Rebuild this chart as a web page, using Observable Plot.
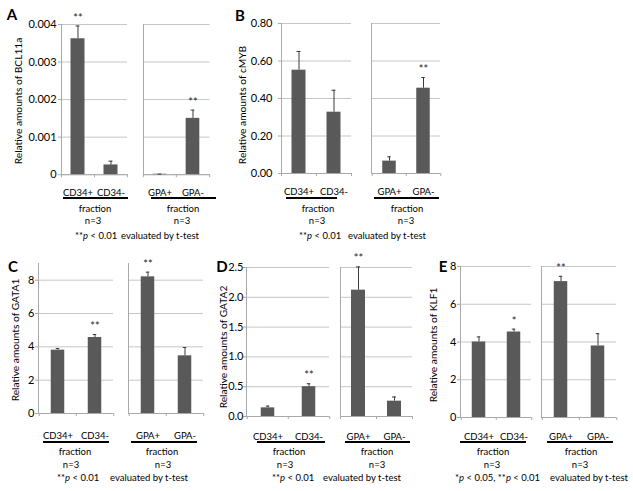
<!DOCTYPE html>
<html><head><meta charset="utf-8">
<script src="https://cdn.jsdelivr.net/npm/d3@7"></script>
<script src="https://cdn.jsdelivr.net/npm/@observablehq/plot@0.6"></script>
<style>
body{margin:0;background:#fff;}
#fig{position:relative;width:633px;height:491px;overflow:hidden;font-family:Lato,sans-serif;color:#000;background:#fff;}
#fig svg{position:absolute;overflow:visible;}
.t{position:absolute;white-space:nowrap;line-height:1;}
.c{transform:translate(-50%,-50%);}
.l{transform:translate(0,-50%);}
.yl{transform:translate(-50%,-50%) rotate(-90deg);font-size:10.2px;}
.letter{font-weight:bold;font-size:15px;transform:translate(-50%,-50%);}
.small{font-size:9.5px;}
.ul{position:absolute;height:1.5px;background:#000;}
</style></head><body><div id="fig"></div>
<script>
// ---------- data ----------
const categoriesCD34 = ["CD34+", "CD34-"];
const categoriesGPA = ["GPA+", "GPA-"];

// A: BCL11a
const bcl11aCD34 = [0.00362, 0.00026];
const bcl11aCD34Err = [0.00034, 0.0001];
const bcl11aCD34Stars = ["**", ""];
const bcl11aGPA = [0.000012, 0.0015];
const bcl11aGPAErr = [0.000003, 0.00022];
const bcl11aGPAStars = ["", "**"];
const ticksA = [0, 0.001, 0.002, 0.003, 0.004];
const tickLabelsA = ["0", "0.001", "0.002", "0.003", "0.004"];

// B: cMYB
const cmybCD34 = [0.551, 0.327];
const cmybCD34Err = [0.10, 0.117];
const cmybCD34Stars = ["", ""];
const cmybGPA = [0.066, 0.455];
const cmybGPAErr = [0.023, 0.057];
const cmybGPAStars = ["", "**"];
const ticksB = [0, 0.2, 0.4, 0.6, 0.8];
const tickLabelsB = ["0.00", "0.20", "0.40", "0.60", "0.80"];

// C: GATA1
const gata1CD34 = [3.8, 4.56];
const gata1CD34Err = [0.1, 0.18];
const gata1CD34Stars = ["", "**"];
const gata1GPA = [8.2, 3.46];
const gata1GPAErr = [0.28, 0.5];
const gata1GPAStars = ["**", ""];
const ticksC = [0, 2, 4, 6, 8];
const tickLabelsC = ["0", "2", "4", "6", "8"];

// D: GATA2
const gata2CD34 = [0.145, 0.50];
const gata2CD34Err = [0.03, 0.05];
const gata2CD34Stars = ["", "**"];
const gata2GPA = [2.12, 0.257];
const gata2GPAErr = [0.39, 0.07];
const gata2GPAStars = ["**", ""];
const ticksD = [0, 0.5, 1.0, 1.5, 2.0, 2.5];
const tickLabelsD = ["0.0", "0.5", "1.0", "1.5", "2.0", "2.5"];

// E: KLF1
const klf1CD34 = [4.0, 4.53];
const klf1CD34Err = [0.27, 0.15];
const klf1CD34Stars = ["", "*"];
const klf1GPA = [7.2, 3.79];
const klf1GPAErr = [0.28, 0.65];
const klf1GPAStars = ["**", ""];
const ticksE = [0, 2, 4, 6, 8];
const tickLabelsE = ["0", "2", "4", "6", "8"];

const fractionLabel = "fraction";
const nLabel = "n=3";
const pText1 = "**<i>p</i> &lt; 0.01";
const pText2 = "*<i>p</i> &lt; 0.05, **<i>p</i> &lt; 0.01";
const evalText = "evaluated by t-test";

// ---------- layout / style ----------
const BAR = "#595959", GRID = "#c6c6c6", AXIS = "#a9a9a9", ERR = "#3a3a3a";
const BAR_W = 14, CAP_W = 4;

const panels = [
  {letter: "A", lx: 12, ly: 14, ylabel: "Relative amounts of BCL11a", yx: 18, yy: 101,
   domain: [0, 0.004], ticks: ticksA, labels: tickLabelsA, yTop: 23.5, yBot: 173.7, tickGap: 5, catPad: 15,
   subs: [{x0: 61, x1: 127, cats: categoriesCD34, values: bcl11aCD34, errors: bcl11aCD34Err, stars: bcl11aCD34Stars},
          {x0: 143.3, x1: 210, cats: categoriesGPA, values: bcl11aGPA, errors: bcl11aGPAErr, stars: bcl11aGPAStars}],
   ulY: 198, uls: [[63, 128], [151, 216]], fracY: 208.5, fracX: [95, 183], nY: 221, nX: [93, 182],
   footY: 235.5, pX: 75, pText: pText1, evX: 121},
  {letter: "B", lx: 240, ly: 14.5, ylabel: "Relative amounts of cMYB", yx: 242, yy: 105,
   domain: [0, 0.8], ticks: ticksB, labels: tickLabelsB, yTop: 23.3, yBot: 173.3, tickGap: 9, catPad: 15,
   subs: [{x0: 281, x1: 351, cats: categoriesCD34, values: cmybCD34, errors: cmybCD34Err, stars: cmybCD34Stars},
          {x0: 371, x1: 440, cats: categoriesGPA, values: cmybGPA, errors: cmybGPAErr, stars: cmybGPAStars}],
   ulY: 198, uls: [[286, 337], [374, 439]], fracY: 208.5, fracX: [318, 407], nY: 221, nX: [317, 406],
   footY: 235.5, pX: 299, pText: pText1, evX: 348},
  {letter: "C", lx: 13, ly: 266, ylabel: "Relative amounts of GATA1", yx: 15, yy: 340,
   domain: [0, 9], ticks: ticksC, labels: tickLabelsC, yTop: 263.3, yBot: 413.3, tickGap: 4, catPad: 19,
   subs: [{x0: 38, x1: 113, cats: categoriesCD34, values: gata1CD34, errors: gata1CD34Err, stars: gata1CD34Stars},
          {x0: 128, x1: 203, cats: categoriesGPA, values: gata1GPA, errors: gata1GPAErr, stars: gata1GPAStars}],
   ulY: 442, uls: [[43, 109], [131, 197]], fracY: 452, fracX: [75, 162], nY: 465, nX: [71, 163],
   footY: 478, pX: 57, pText: pText1, evX: 110},
  {letter: "D", lx: 222, ly: 266, ylabel: "Relative amounts of GATA2", yx: 223, yy: 347,
   domain: [0, 2.5], ticks: ticksD, labels: tickLabelsD, yTop: 267, yBot: 416, tickGap: 3, catPad: 16.5,
   subs: [{x0: 246, x1: 329, cats: categoriesCD34, values: gata2CD34, errors: gata2CD34Err, stars: gata2CD34Stars},
          {x0: 340, x1: 412, cats: categoriesGPA, values: gata2GPA, errors: gata2GPAErr, stars: gata2GPAStars}],
   ulY: 442, uls: [[257, 325], [345, 410]], fracY: 452, fracX: [289, 377], nY: 465, nX: [285, 377],
   footY: 478, pX: 272, pText: pText1, evX: 323},
  {letter: "E", lx: 443, ly: 266, ylabel: "Relative amounts of KLF1", yx: 433, yy: 345,
   domain: [0, 8], ticks: ticksE, labels: tickLabelsE, yTop: 265.7, yBot: 416.7, tickGap: 4, catPad: 16,
   subs: [{x0: 460, x1: 531, cats: categoriesCD34, values: klf1CD34, errors: klf1CD34Err, stars: klf1CD34Stars},
          {x0: 541, x1: 616, cats: categoriesGPA, values: klf1GPA, errors: klf1GPAErr, stars: klf1GPAStars}],
   ulY: 442, uls: [[460, 526], [547, 613]], fracY: 452, fracX: [493, 581], nY: 465, nX: [492, 580],
   footY: 478, pX: 455, pText: pText2, evX: 550}
];

const fig = document.getElementById("fig");

function addText(html, x, y, cls) {
  const d = document.createElement("div");
  d.className = "t " + cls;
  d.style.left = x + "px";
  d.style.top = y + "px";
  d.innerHTML = html;
  fig.appendChild(d);
}
function addLine(x0, x1, y) {
  const d = document.createElement("div");
  d.className = "ul";
  d.style.left = x0 + "px";
  d.style.width = (x1 - x0) + "px";
  d.style.top = (y - 0.75) + "px";
  fig.appendChild(d);
}

function drawSub(p, s, showAxis) {
  const mL = 45, mR = 12, mT = 24, mB = 40;
  const band = (s.x1 - s.x0) / 2;
  const inset = (band - BAR_W) / 2;
  const capInset = (band - CAP_W) / 2;
  const data = s.cats.map((c, i) => ({cat: c, v: s.values[i], e: s.errors[i], star: s.stars[i]}));
  const tickLen = 3 * (p.domain[1] - p.domain[0]) / (p.yBot - p.yTop);
  const marks = [
    Plot.gridY(p.ticks, {stroke: GRID, strokeOpacity: 1}),
    Plot.frame({anchor: "left", stroke: AXIS}),
    Plot.ruleY([0], {stroke: AXIS}),
    Plot.ruleX(s.cats, {dx: -band / 2, y1: 0, y2: -tickLen, stroke: AXIS}),
    Plot.ruleX([s.cats[s.cats.length - 1]], {dx: band / 2, y1: 0, y2: -tickLen, stroke: AXIS}),
    Plot.barY(data, {x: "cat", y: "v", fill: BAR, insetLeft: inset, insetRight: inset}),
    Plot.ruleX(data, {x: "cat", y1: "v", y2: d => d.v + d.e, stroke: ERR}),
    Plot.tickY(data, {x: "cat", y: d => d.v + d.e, stroke: ERR, insetLeft: capInset, insetRight: capInset}),
    Plot.text(data.filter(d => d.star), {x: "cat", y: d => d.v + d.e, text: "star", dy: -8, fontSize: 11, fill: "#262626"}),
    Plot.axisX({tickSize: 0, tickPadding: p.catPad, fontSize: 9.5, fill: "#000", label: null})
  ];
  if (showAxis) {
    marks.push(Plot.axisY(p.ticks, {
      tickFormat: d => p.labels[p.ticks.indexOf(d)],
      tickSize: 3, tickPadding: p.tickGap - 3, stroke: AXIS, fill: "#000", fontSize: 11, label: null
    }));
  }
  const svg = Plot.plot({
    width: s.x1 - s.x0 + mL + mR,
    height: p.yBot - p.yTop + mT + mB,
    marginLeft: mL, marginRight: mR, marginTop: mT, marginBottom: mB,
    style: {fontFamily: "Lato, sans-serif", background: "transparent", overflow: "visible"},
    x: {domain: s.cats, padding: 0},
    y: showAxis ? {domain: p.domain, label: null} : {domain: p.domain, label: null, axis: null},
    marks
  });
  svg.style.left = (s.x0 - mL) + "px";
  svg.style.top = (p.yTop - mT) + "px";
  svg.style.maxWidth = "none";
  fig.appendChild(svg);
}

for (const p of panels) {
  drawSub(p, p.subs[0], true);
  drawSub(p, p.subs[1], false);
  addText(p.letter, p.lx, p.ly, "letter");
  addText(p.ylabel, p.yx, p.yy, "yl");
  p.uls.forEach(([a, b]) => addLine(a, b, p.ulY));
  p.fracX.forEach(x => addText(fractionLabel, x, p.fracY, "c small"));
  p.nX.forEach(x => addText(nLabel, x, p.nY, "c small"));
  addText(p.pText, p.pX, p.footY, "l small");
  addText(evalText, p.evX, p.footY, "l small");
}
</script></body></html>
